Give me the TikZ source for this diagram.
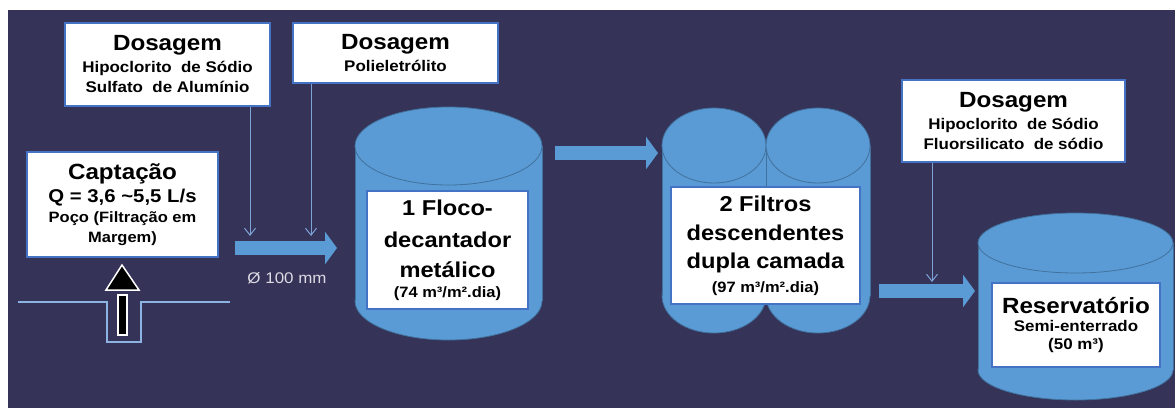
\documentclass[tikz,border=0pt]{standalone}
\usepackage{fontspec}
\setmainfont{Liberation Sans}[FakeStretch=1.1]
\usepackage{xcolor}
\usepackage{tikz}
\usetikzlibrary{arrows.meta}

\definecolor{bgnavy}{RGB}{53,51,88}
\definecolor{tankblue}{RGB}{91,155,213}
\definecolor{tankline}{RGB}{65,113,156}
\definecolor{boxblue}{RGB}{68,114,196}
\definecolor{doseblue}{RGB}{125,163,215}
\definecolor{groundblue}{RGB}{141,179,226}
\definecolor{labelgrey}{RGB}{220,220,228}

\newcommand\titlesize{\fontsize{22}{27}\selectfont}
\newcommand\bigsize{\fontsize{21.5}{30}\selectfont}
\newcommand\notesize{\fontsize{15.4}{20}\selectfont}

\tikzset{
  infobox/.style={draw=boxblue, line width=1.5pt, fill=white, align=center,
    inner sep=0pt, font=\bfseries\notesize},
  tank/.style={fill=tankblue, draw=tankline, line width=0.8pt},
  pipe/.style={draw=tankblue, line width=14pt, -{Triangle[length=12pt,width=32pt]}},
  dose/.style={draw=doseblue, line width=1pt, -{Straight Barb[length=7pt,width=11pt]}}
}

\begin{document}
\begin{tikzpicture}[x=1pt,y=-1pt]
    \useasboundingbox (0,0) rectangle (1175,408);
    \fill[white] (0,0) rectangle (1175,408);
    \fill[bgnavy] (8,10) rectangle (1175,408);

    % floco-decantador
    \filldraw[tank] (448.5,301) ellipse (93.5 and 39);
    \fill[tankblue] (355,146) rectangle (542,301);
    \draw[tankline, line width=0.8pt] (355,146) -- (355,301) (542,146) -- (542,301);
    \filldraw[tank] (448.5,146) ellipse (93.5 and 39);

    % two filters side by side
    \filldraw[tank] (714,295.5) ellipse (52 and 37.5);
    \fill[tankblue] (662,145.5) rectangle (766,295.5);
    \draw[tankline, line width=0.8pt] (662,145.5) -- (662,295.5);
    \filldraw[tank] (714,145.5) ellipse (52 and 37.5);
    \filldraw[tank] (818,295.5) ellipse (52 and 37.5);
    \fill[tankblue] (766,145.5) rectangle (870,295.5);
    \draw[tankline, line width=0.8pt] (766,145.5) -- (766,295.5) (870,145.5) -- (870,295.5);
    \filldraw[tank] (818,145.5) ellipse (52 and 37.5);

    % reservoir
    \filldraw[tank] (1075.5,370) ellipse (97.5 and 30);
    \fill[tankblue] (978,243) rectangle (1173,370);
    \draw[tankline, line width=0.8pt] (978,243) -- (978,370) (1173,243) -- (1173,370);
    \filldraw[tank] (1075.5,243) ellipse (97.5 and 30);

    % labels
    \node[infobox, minimum width=205pt, minimum height=83pt] (dos1) at (167.5,64.5)
        {{\titlesize Dosagem}\\[2pt] Hipoclorito\ \ de Sódio\\ Sulfato\ \ de Alumínio};
    \node[infobox, minimum width=205pt, minimum height=60pt] (dos2) at (395.5,53)
        {{\titlesize Dosagem}\\[2pt] Polieletrólito};
    \node[infobox, minimum width=223pt, minimum height=82pt] (dos3) at (1013.5,121)
        {{\titlesize Dosagem}\\[2pt] Hipoclorito\ \ de Sódio\\ Fluorsilicato\ \ de sódio};
    \node[infobox, minimum width=191pt, minimum height=105pt] (capt) at (122.5,204.5)
        {{\fontsize{22}{27}\selectfont Captação}\\[3pt] {\fontsize{18.5}{24}\selectfont Q = 3,6 \textasciitilde5,5 L/s}\\ {\fontsize{15}{20}\selectfont Poço (Filtração em}\\ {\fontsize{15}{20}\selectfont Margem)}};
    \node[infobox, minimum width=161pt, minimum height=118pt] (floco) at (447.5,250)
        {{\bigsize 1 Floco-}\\[12pt] {\bigsize decantador}\\[10pt] {\bigsize metálico}\\ {\fontsize{15}{20}\selectfont (74 m³/m².dia)}};
    \node[infobox, minimum width=189pt, minimum height=117pt] (filtros) at (765.5,245.5)
        {{\bigsize 2 Filtros}\\[9pt] {\bigsize descendentes}\\[8pt] {\bigsize dupla camada}\\[4pt] {\fontsize{15}{20}\selectfont (97 m³/m².dia)}};
    \node[infobox, minimum width=168pt, minimum height=84pt] (reserv) at (1076,325)
        {{\fontsize{22}{28}\selectfont Reservatório}\\[-2pt] Semi-enterrado\\[-2pt] (50 m³)};

    \node[labelgrey, font=\fontsize{15.4}{20}\selectfont, anchor=base] (diam) at (287,283) {Ø 100 mm};

    % flow arrows
    \coordinate (p0) at (235,248);
    \coordinate (p1) at (337,248);
    \coordinate (p2) at (555,153);
    \coordinate (p3) at (658,153);
    \coordinate (p4) at (879,291);
    \coordinate (p5) at (975,291);
    \draw[pipe] (p0) -- (p1);
    \draw[pipe] (p2) -- (p3);
    \draw[pipe] (p4) -- (p5);

    % chemical dosing
    \coordinate (d1) at (250,236);
    \coordinate (d2) at (311,236);
    \coordinate (d3) at (932,282);
    \draw[dose] (dos1.south -| d1) -- (d1);
    \draw[dose] (dos2.south -| d2) -- (d2);
    \draw[dose] (dos3.south -| d3) -- (d3);

    % well intake
    \draw[groundblue, line width=1.2pt] (18,302) -- (107,302) -- (107,342) -- (141,342) -- (141,302) -- (230,302);
    \filldraw[fill=black, draw=white, line width=1.5pt] (122,265) -- (139,290) -- (106,290) -- cycle;
    \filldraw[fill=black, draw=white, line width=1.2pt] (118,295) rectangle (127,335);
\end{tikzpicture}
\end{document}
